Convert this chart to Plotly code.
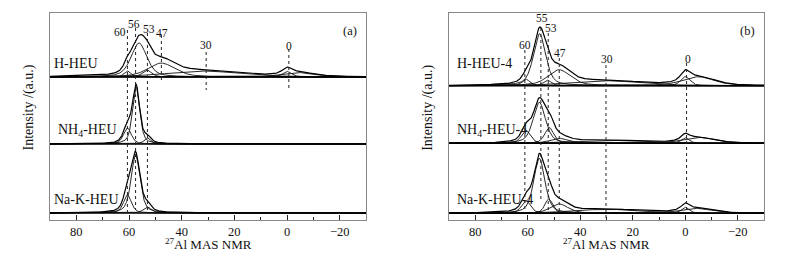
import numpy as np
import plotly.graph_objects as go

# ---------------- data ----------------
# chemical shift axis (ppm), reversed, 90 .. -30
ppm_min, ppm_max = -30, 90

# Fitted components for each spectrum: centre (ppm), height (a.u.), FWHM (ppm)
# Panel (a)
a_names = ["H-HEU", "NH<sub>4</sub>-HEU", "Na-K-HEU"]
a_H_centres = [60.6, 56.2, 53.2, 47.7, 32.0, 0.0, -4.0]
a_H_heights = [6.0, 34.0, 7.0, 14.0, 6.0, 5.5, 4.5]
a_H_widths = [3.0, 7.0, 4.0, 12.0, 32.0, 4.0, 14.0]

a_NH4_centres = [60.6, 57.3, 53.0]
a_NH4_heights = [16.0, 57.0, 6.0]
a_NH4_widths = [3.5, 3.2, 3.0]

a_NaK_centres = [60.6, 57.5, 53.0]
a_NaK_heights = [18.0, 58.0, 6.0]
a_NaK_widths = [3.5, 4.0, 3.5]

# Panel (b)
b_names = ["H-HEU-4", "NH<sub>4</sub>-HEU-4", "Na-K-HEU-4"]
b_H_centres = [60.7, 55.5, 52.5, 48.0, 30.0, 0.0, -5.0]
b_H_heights = [6.5, 52.0, 5.5, 16.0, 5.0, 9.0, 9.0]
b_H_widths = [3.5, 5.5, 3.5, 10.0, 30.0, 4.0, 14.0]

b_NH4_centres = [60.7, 55.6, 51.8, 48.0, 30.0, 0.0, -5.0]
b_NH4_heights = [13.0, 41.0, 15.7, 5.0, 3.0, 5.5, 6.0]
b_NH4_widths = [4.0, 5.5, 4.0, 8.0, 30.0, 3.5, 14.0]

b_NaK_centres = [60.7, 55.6, 52.0, 48.0, 30.0, 0.0, -4.0]
b_NaK_heights = [12.7, 55.0, 14.4, 9.4, 4.0, 6.0, 5.0]
b_NaK_widths = [4.0, 5.0, 3.5, 8.0, 30.0, 3.5, 14.0]

# Marked shift positions (dashed guide lines) and their labels
a_mark_pos = [60.6, 57.5, 53.0, 47.7, 30.7, -0.7]
a_mark_labels = ["60", "56", "53", "47", "30", "0"]
b_mark_pos = [61.1, 55.0, 52.2, 48.0, 30.2, -0.5]
b_mark_labels = ["60", "55", "53", "47", "30", "0"]

x_ticks = [80, 60, 40, 20, 0, -20]
x_tick_labels = ["80", "60", "40", "20", "0", "\u221220"]

# ---------------- layout constants ----------------
WIN_W, WIN_H = 785, 262
OFF = 8                               # default page body margin
W, H = WIN_W - 2 * OFF, WIN_H - 2 * OFF
FONT = "Liberation Serif, Times New Roman, Times, serif"
box_top, box_bot = 13, 220            # window pixel rows of the plot box
y_span = box_bot - box_top            # y axis runs 0..y_span (pixel units)


def py(pix):                          # window pixel row -> y data value
    return box_bot - pix


def paper_x(px):
    return (px - OFF) / W


def paper_y(pyx):
    return (H - (pyx - OFF)) / H


a_baselines = [py(77), py(144), py(213)]
b_baselines = [py(85.7), py(143.3), py(213.3)]

a_dom = [paper_x(50), paper_x(366)]
b_dom = [paper_x(449), paper_x(764)]
y_dom = [paper_y(box_bot), paper_y(box_top)]

x = np.linspace(ppm_max, ppm_min, 1201)
ETA = 0.5  # Lorentzian fraction of the pseudo-Voigt line shape


def peak(c, h, w):
    s = (x - c) / (w / 2.0)
    lor = 1.0 / (1.0 + s ** 2)
    gau = np.exp(-np.log(2) * s ** 2)
    return h * (ETA * lor + (1 - ETA) * gau)


fig = go.Figure()


def add_spectrum(xa, ya, base, centres, heights, widths):
    comps = [peak(c, h, w) for c, h, w in zip(centres, heights, widths)]
    for comp in comps:
        fig.add_trace(go.Scatter(x=x, y=comp + base, mode="lines",
                                 line=dict(color="#111", width=0.9),
                                 xaxis=xa, yaxis=ya, hoverinfo="skip",
                                 showlegend=False))
    env = np.sum(comps, axis=0)
    fig.add_trace(go.Scatter(x=x, y=env + base, mode="lines",
                             line=dict(color="#000", width=1.2),
                             xaxis=xa, yaxis=ya, hoverinfo="skip",
                             showlegend=False))
    fig.add_trace(go.Scatter(x=[ppm_max, ppm_min], y=[base, base], mode="lines",
                             line=dict(color="#000", width=1.6),
                             xaxis=xa, yaxis=ya, hoverinfo="skip",
                             showlegend=False))


add_spectrum("x", "y", a_baselines[0], a_H_centres, a_H_heights, a_H_widths)
add_spectrum("x", "y", a_baselines[1], a_NH4_centres, a_NH4_heights, a_NH4_widths)
add_spectrum("x", "y", a_baselines[2], a_NaK_centres, a_NaK_heights, a_NaK_widths)

add_spectrum("x2", "y2", b_baselines[0], b_H_centres, b_H_heights, b_H_widths)
add_spectrum("x2", "y2", b_baselines[1], b_NH4_centres, b_NH4_heights, b_NH4_widths)
add_spectrum("x2", "y2", b_baselines[2], b_NaK_centres, b_NaK_heights, b_NaK_widths)

# dashed guide lines: (top pixel row, bottom pixel row)
a_dash_extent = [(30, 213), (28, 210), (33, 213), (35, 83), (52, 90), (49, 90)]
b_dash_extent = [(50, 213), (28, 200), (33, 213), (58, 213), (65, 220), (63, 213)]
# label positions (ppm, pixel row)
a_label_xy = [(63.4, 32), (58.1, 24), (52.4, 29), (47.5, 33), (30.7, 45), (-0.7, 46)]
b_label_xy = [(61.1, 45), (54.4, 18), (51.0, 28), (47.7, 53), (29.9, 59), (-1.0, 59)]

shapes = []
annotations = []
for xr, yr, pos, ext, labs, lxy in [("x", "y", a_mark_pos, a_dash_extent, a_mark_labels, a_label_xy),
                                    ("x2", "y2", b_mark_pos, b_dash_extent, b_mark_labels, b_label_xy)]:
    for p, (t, b), lab, (lx, ly) in zip(pos, ext, labs, lxy):
        shapes.append(dict(type="line", xref=xr, yref=yr, x0=p, x1=p,
                           y0=py(t), y1=py(b),
                           line=dict(color="#222", width=1, dash="3px,3px")))
        annotations.append(dict(xref=xr, yref=yr, x=lx, y=py(ly), text=lab,
                                showarrow=False, xanchor="center", yanchor="middle",
                                font=dict(family=FONT, size=11.5, color="#111")))

annotations.append(dict(xref="x", yref="y", x=-23.9, y=py(31), text="(a)", showarrow=False,
                        font=dict(family=FONT, size=12.5, color="#111")))
annotations.append(dict(xref="x2", yref="y2", x=-23.8, y=py(31), text="(b)", showarrow=False,
                        font=dict(family=FONT, size=12.5, color="#111")))

a_name_xy = [(89.1, 63), (87.8, 130), (89.1, 199)]
b_name_xy = [(87.7, 63), (87.7, 130), (87.7, 199)]
for xr, yr, names, nxy in [("x", "y", a_names, a_name_xy), ("x2", "y2", b_names, b_name_xy)]:
    for n, (nx, ny) in zip(names, nxy):
        annotations.append(dict(xref=xr, yref=yr, x=nx, y=py(ny), text=n, showarrow=False,
                                xanchor="left", yanchor="middle",
                                font=dict(family=FONT, size=14, color="#111")))

for cx in [208, 606.7]:
    annotations.append(dict(xref="paper", yref="paper", x=paper_x(cx), y=paper_y(244),
                            text="<sup>27</sup>Al MAS NMR", showarrow=False,
                            xanchor="center", yanchor="middle",
                            font=dict(family=FONT, size=13, color="#111")))
for cx in [29, 428.3]:
    annotations.append(dict(xref="paper", yref="paper", x=paper_x(cx), y=paper_y(107.5),
                            text="Intensity /(a.u.)", showarrow=False, textangle=-90,
                            xanchor="center", yanchor="middle",
                            font=dict(family=FONT, size=14, color="#111")))

xaxis_common = dict(range=[ppm_max, ppm_min], showgrid=False, zeroline=False,
                    showline=True, mirror=True, linecolor="#888", linewidth=1,
                    ticks="inside", ticklen=5, tickcolor="#222", tickwidth=1,
                    tickvals=x_ticks, ticktext=x_tick_labels,
                    minor=dict(ticks="inside", ticklen=3, dtick=10, tickcolor="#222",
                               tick0=0, showgrid=False),
                    tickfont=dict(family=FONT, size=12.5, color="#111"))
yaxis_common = dict(range=[0, y_span], showgrid=False, zeroline=False,
                    showline=True, mirror=True, linecolor="#888", linewidth=1,
                    showticklabels=False, ticks="", domain=y_dom)

fig.update_layout(
    width=W, height=H, margin=dict(l=0, r=0, t=0, b=0, autoexpand=False),
    paper_bgcolor="white", plot_bgcolor="white",
    xaxis=dict(xaxis_common, domain=a_dom, anchor="y"),
    yaxis=dict(yaxis_common, anchor="x"),
    xaxis2=dict(xaxis_common, domain=b_dom, anchor="y2"),
    yaxis2=dict(yaxis_common, anchor="x2"),
    shapes=shapes, annotations=annotations, showlegend=False,
)

fig.write_html("out.html")
